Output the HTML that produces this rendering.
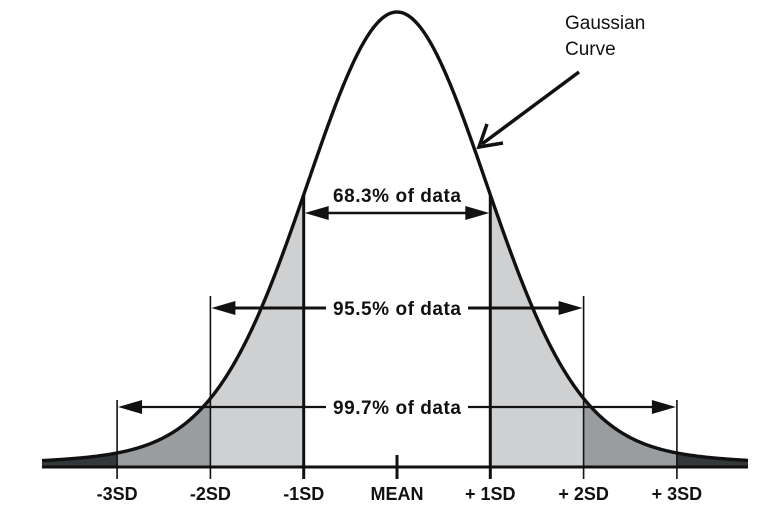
<!DOCTYPE html>
<html><head><meta charset="utf-8"><style>
html,body{margin:0;padding:0;background:#fff;width:768px;height:511px;overflow:hidden}
svg{display:block}
text{font-family:"Liberation Sans",sans-serif;fill:#111}
</style></head><body>
<svg id="s" width="768" height="511" xmlns="http://www.w3.org/2000/svg"></svg>
<script>
const m=397,sd=93.3,base=467,A=455;
function f(z){return 0.87*Math.exp(-z*z/1.9)+0.13*Math.exp(-Math.sqrt(z*z+0.2)/1.5)/Math.exp(-Math.sqrt(0.2)/1.5);}
const f0=f(0);
function Y(x){const z=(x-m)/sd;return base-A*f(z)/f0;}
function area(x1,x2){let d=`M${x1},${base}`;for(let x=x1;x<=x2;x+=1)d+=`L${x},${Y(x).toFixed(2)}`;d+=`L${x2},${Y(x2).toFixed(2)}L${x2},${base}Z`;return d;}
let s='';
const X=k=>m+k*sd;
s+=`<path d="${area(42,X(-3))}" fill="#33393b"/>`;
s+=`<path d="${area(X(3),748)}" fill="#33393b"/>`;
s+=`<path d="${area(X(-3),X(-2))}" fill="#9a9da0"/>`;
s+=`<path d="${area(X(2),X(3))}" fill="#9a9da0"/>`;
s+=`<path d="${area(X(-2),X(-1))}" fill="#cfd0d2"/>`;
s+=`<path d="${area(X(1),X(2))}" fill="#cfd0d2"/>`;
let d='';for(let x=42;x<=748;x++)d+=(x==42?'M':'L')+x+','+Y(x).toFixed(2);
s+=`<path d="${d}" fill="none" stroke="#111" stroke-width="3.4"/>`;
s+=`<line x1="42" y1="${base}" x2="748" y2="${base}" stroke="#111" stroke-width="3"/>`;
[[-1,3,Y(X(-1))],[1,3,Y(X(1))],[-2,1.6,296],[2,1.6,296],[-3,1.6,400],[3,1.6,400]].forEach(([k,w,t])=>{
 s+=`<line x1="${X(k)}" y1="${t}" x2="${X(k)}" y2="479" stroke="#111" stroke-width="${w}"/>`;});
s+=`<line x1="${m}" y1="455" x2="${m}" y2="479" stroke="#111" stroke-width="3"/>`;
function arrow(x1,x2,y,w){
 s+=`<line x1="${x1+10}" y1="${y}" x2="${x2-10}" y2="${y}" stroke="#111" stroke-width="${w}"/>`;
 s+=`<polygon points="${x1+1},${y} ${x1+25},${y-7} ${x1+25},${y+7}" fill="#111"/>`;
 s+=`<polygon points="${x2-1},${y} ${x2-25},${y-7} ${x2-25},${y+7}" fill="#111"/>`;
}
arrow(X(-1),X(1),213,2.5);
s+=`<text x="${m}" y="202" font-size="19" font-weight="bold" text-anchor="middle" textLength="128">68.3% of data</text>`;
arrow(X(-2),X(2),308,3);
s+=`<rect x="326" y="296" width="142" height="24" fill="#fff"/><text x="${m}" y="315" font-size="19" font-weight="bold" text-anchor="middle" textLength="128">95.5% of data</text>`;
arrow(X(-3),X(3),407,2.2);
s+=`<rect x="326" y="395" width="142" height="24" fill="#fff"/><text x="${m}" y="414" font-size="19" font-weight="bold" text-anchor="middle" textLength="128">99.7% of data</text>`;
[[-3,'-3SD'],[-2,'-2SD'],[-1,'-1SD'],[0,'MEAN'],[1,'+ 1SD'],[2,'+ 2SD'],[3,'+ 3SD']].forEach(([k,t])=>{
 s+=`<text x="${X(k)}" y="500" font-size="18" font-weight="bold" text-anchor="middle">${t}</text>`;});
s+=`<text x="565" y="29" font-size="19">Gaussian</text><text x="565" y="55" font-size="19">Curve</text>`;
s+=`<line x1="579" y1="72" x2="482" y2="144" stroke="#111" stroke-width="3.5"/>`;
s+=`<polyline points="487,124 479,147 503,143" fill="none" stroke="#111" stroke-width="3.5" stroke-linejoin="miter"/>`;
document.getElementById('s').innerHTML=s;
</script>
</body></html>
